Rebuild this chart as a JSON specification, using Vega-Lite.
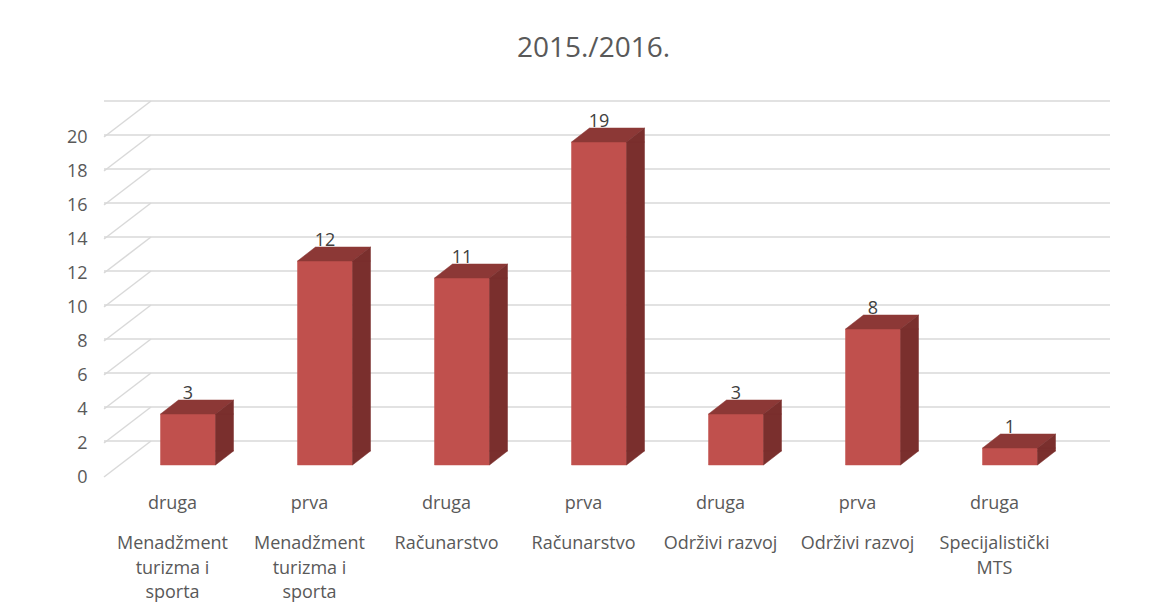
{
  "$schema": "https://vega.github.io/schema/vega-lite/v6.json",
  "autosize": "none",
  "width": 959,
  "height": 340,
  "padding": {"left": 104, "top": 137, "right": 103, "bottom": 139},
  "background": "white",
  "title": {"text": "2015./2016.", "font": "Open Sans", "fontSize": 28, "fontWeight": "normal", "color": "#595959", "anchor": "middle", "dx": 10, "offset": 37},
  "config": {"view": {"stroke": null}, "font": "Open Sans"},
  "datasets": {
    "bars": [
      {"key": "druga|Menadžment turizma i sporta", "level": "druga", "program": "Menadžment\nturizma i\nsporta", "value": 3},
      {"key": "prva|Menadžment turizma i sporta", "level": "prva", "program": "Menadžment\nturizma i\nsporta", "value": 12},
      {"key": "druga|Računarstvo", "level": "druga", "program": "Računarstvo", "value": 11},
      {"key": "prva|Računarstvo", "level": "prva", "program": "Računarstvo", "value": 19},
      {"key": "druga|Održivi razvoj", "level": "druga", "program": "Održivi razvoj", "value": 3},
      {"key": "prva|Održivi razvoj", "level": "prva", "program": "Održivi razvoj", "value": 8},
      {"key": "druga|Specijalistički MTS", "level": "druga", "program": "Specijalistički\nMTS", "value": 1}
    ],
    "grid": [{"v": 0}, {"v": 2}, {"v": 4}, {"v": 6}, {"v": 8}, {"v": 10}, {"v": 12}, {"v": 14}, {"v": 16}, {"v": 18}, {"v": 20}]
  },
  "layer": [
    {
      "data": {"name": "grid"},
      "mark": {"type": "rule", "color": "#D9D9D9", "strokeWidth": 1.5, "xOffset": 47, "x2Offset": 48, "yOffset": -36},
      "encoding": {
        "y": {"field": "v", "type": "quantitative", "scale": {"domain": [0, 20], "nice": false},
          "axis": {"values": [0, 2, 4, 6, 8, 10, 12, 14, 16, 18, 20], "tickCount": 11, "labelOverlap": false, "labelBound": false, "labelSeparation": 0, "labelFlush": false, "grid": false, "domain": false, "ticks": false, "labelPadding": 17, "labelFontSize": 18, "labelColor": "#595959", "labelFont": "Open Sans", "title": null}}
      }
    },
    {
      "data": {"name": "grid"},
      "mark": {"type": "rule", "color": "#D9D9D9", "strokeWidth": 1.5, "xOffset": -68.5, "x2Offset": -21.5, "y2Offset": -36},
      "encoding": {
        "x": {"datum": "druga|Menadžment turizma i sporta", "type": "nominal"},
        "x2": {"datum": "druga|Menadžment turizma i sporta"},
        "y": {"field": "v", "type": "quantitative"},
        "y2": {"field": "v"}
      }
    },
    {
      "data": {"name": "bars"},
      "mark": {"type": "bar", "width": 55, "xOffset": 15.5, "yOffset": -12, "y2Offset": -12, "color": "#C0504D", "stroke": "#C0504D", "strokeWidth": 0.5},
      "encoding": {
        "x": {"field": "key", "type": "nominal",
          "scale": {"domain": ["druga|Menadžment turizma i sporta", "prva|Menadžment turizma i sporta", "druga|Računarstvo", "prva|Računarstvo", "druga|Održivi razvoj", "prva|Održivi razvoj", "druga|Specijalistički MTS"], "paddingInner": 0, "paddingOuter": 0},
          "axis": {"labelExpr": "split(datum.label, '|')[0]", "labelAngle": 0, "labelAlign": "center", "domain": false, "ticks": false, "labelPadding": 26, "labelFontSize": 18, "labelColor": "#595959", "labelFont": "Open Sans", "title": null}},
        "y": {"field": "value", "type": "quantitative", "stack": null},
        "y2": {"datum": 0}
      }
    },
    {
      "data": {"name": "bars"},
      "mark": {"type": "bar", "width": 18, "xOffset": 52, "yOffset": -12, "y2Offset": -26, "color": "#7A2F2D", "stroke": "#7A2F2D", "strokeWidth": 0.5},
      "encoding": {
        "x": {"field": "key", "type": "nominal"},
        "y": {"field": "value", "type": "quantitative", "stack": null},
        "y2": {"datum": 0}
      }
    },
    {
      "data": {"name": "bars"},
      "mark": {"type": "point", "shape": "M-27.5,0L27.5,0L45.5,-14L-9.5,-14Z", "size": 4, "filled": true, "opacity": 1, "color": "#8C3836", "stroke": "#8C3836", "strokeWidth": 0.5, "xOffset": 15.5, "yOffset": -12},
      "encoding": {
        "x": {"field": "key", "type": "nominal"},
        "y": {"field": "value", "type": "quantitative"}
      }
    },
    {
      "data": {"name": "bars"},
      "mark": {"type": "point", "shape": "M27.5,0L45.5,-14L45.5,0Z", "size": 4, "filled": true, "opacity": 1, "color": "#7A2F2D", "stroke": "#7A2F2D", "strokeWidth": 0.5, "xOffset": 15.5, "yOffset": -12},
      "encoding": {
        "x": {"field": "key", "type": "nominal"},
        "y": {"field": "value", "type": "quantitative"}
      }
    },
    {
      "data": {"name": "bars"},
      "mark": {"type": "point", "shape": "M27.5,-14L27.5,0L45.5,-14Z", "size": 4, "filled": true, "opacity": 1, "color": "#7A2F2D", "stroke": "#7A2F2D", "strokeWidth": 0.5, "xOffset": 15.5, "yOffset": -12},
      "encoding": {
        "x": {"field": "key", "type": "nominal"},
        "y": {"datum": 0, "type": "quantitative"}
      }
    },
    {
      "data": {"name": "bars"},
      "mark": {"type": "text", "font": "Open Sans", "fontSize": 18, "color": "#404040", "baseline": "alphabetic", "xOffset": 15.5, "yOffset": -12, "dy": -15},
      "encoding": {
        "x": {"field": "key", "type": "nominal"},
        "y": {"field": "value", "type": "quantitative"},
        "text": {"field": "value", "type": "quantitative"}
      }
    },
    {
      "data": {"name": "bars"},
      "mark": {"type": "text", "font": "Open Sans", "fontSize": 18, "color": "#595959", "baseline": "top", "lineBreak": "\n", "lineHeight": 24.5, "dy": 58},
      "encoding": {
        "x": {"field": "key", "type": "nominal"},
        "y": {"datum": 0, "type": "quantitative"},
        "text": {"field": "program", "type": "nominal"}
      }
    }
  ]
}
